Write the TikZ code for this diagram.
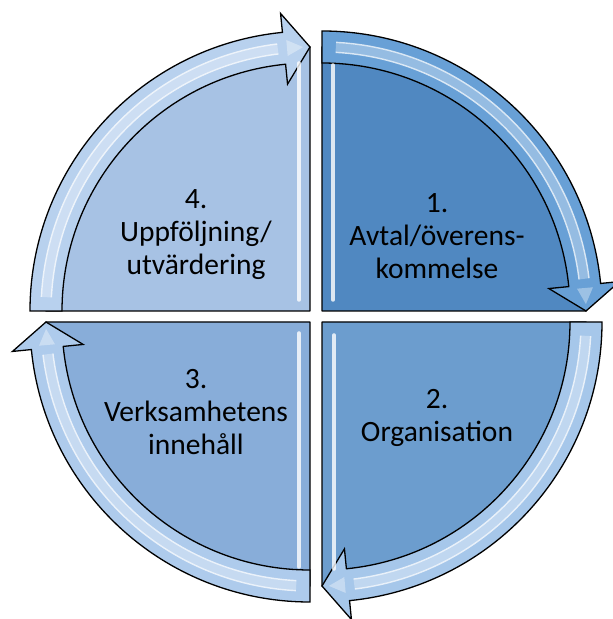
\documentclass[tikz,border=0pt]{standalone}
\usepackage{fontspec}
\setmainfont{Carlito}
\definecolor{sfour}{RGB}{167,194,228}
\definecolor{afour}{RGB}{184,209,238}
\definecolor{sone}{RGB}{80,136,193}
\definecolor{aone}{RGB}{104,160,214}
\definecolor{stwo}{RGB}{108,157,206}
\definecolor{atwo}{RGB}{166,199,234}
\definecolor{sthree}{RGB}{136,173,217}
\definecolor{athree}{RGB}{174,203,236}
\tikzset{
  sectorline/.style={draw=black, line width=1.3pt, line join=round},
  arrowline/.style={draw=black, line width=1.3pt, line join=miter},
  lbl/.style={align=center, font=\fontsize{29.5}{33}\selectfont, text=black, inner sep=0pt},
  gloss/.style={draw=white, line width=1.4pt, opacity=0.75},
  band/.style={draw=white, line width=9pt, opacity=0.3},
  bevel/.style={draw=white, line width=3.5pt, opacity=0.8, line cap=round},
}
\newcommand\quadshape[5]{%
  \begin{scope}[shift={(#1,#2)}, rotate=#3]
    \path[sectorline, fill=#4] (0,0) -- (180:264) arc[start angle=180, end angle=90, radius=264] -- cycle;
    \path[arrowline, fill=#5] (180:280) arc[start angle=180, end angle=95.65, radius=280]
      -- (95.65:299) -- (90:264) -- (95.65:228) -- (95.65:248)
      arc[start angle=95.65, end angle=180, radius=248] -- cycle;
    \path[band] (177:264) arc[start angle=177, end angle=97, radius=264];
    \path[gloss] (177:259) arc[start angle=177, end angle=97, radius=259];
    \path[gloss] (177:269) arc[start angle=177, end angle=97, radius=269];
    \path[fill=white, opacity=0.35] (95:256) -- (91.5:264) -- (95:272) -- cycle;
  \end{scope}}
\begin{document}
\begin{tikzpicture}[x=1pt,y=1pt]
  \useasboundingbox (0,0) rectangle (613,619);
  % quadrants: 4 (top-left), 1 (top-right), 2 (bottom-right), 3 (bottom-left)
  \quadshape{310}{308}{0}{sfour}{afour}
  \quadshape{322}{308}{-90}{sone}{aone}
  \quadshape{322}{297}{-180}{stwo}{atwo}
  \quadshape{310}{297}{90}{sthree}{athree}
  % bevel highlights along the inner vertical edges
  \path[bevel] (299,319) -- (299,556);
  \path[bevel] (333,319) -- (333,554);
  \path[bevel] (334,284) -- (334,50);
  \path[bevel] (299,286) -- (299,52);
  % labels
  \node[lbl] (q4) at (196,384) {4.\\Uppföljning/\\utvärdering};
  \node[lbl] (q1) at (437,383) {1.\\Avtal/överens-\\kommelse};
  \node[lbl] (q2) at (437,201) {2.\\Organisation};
  \node[lbl] (q3) at (196,207) {3.\\Verksamhetens\\innehåll};
\end{tikzpicture}
\end{document}
